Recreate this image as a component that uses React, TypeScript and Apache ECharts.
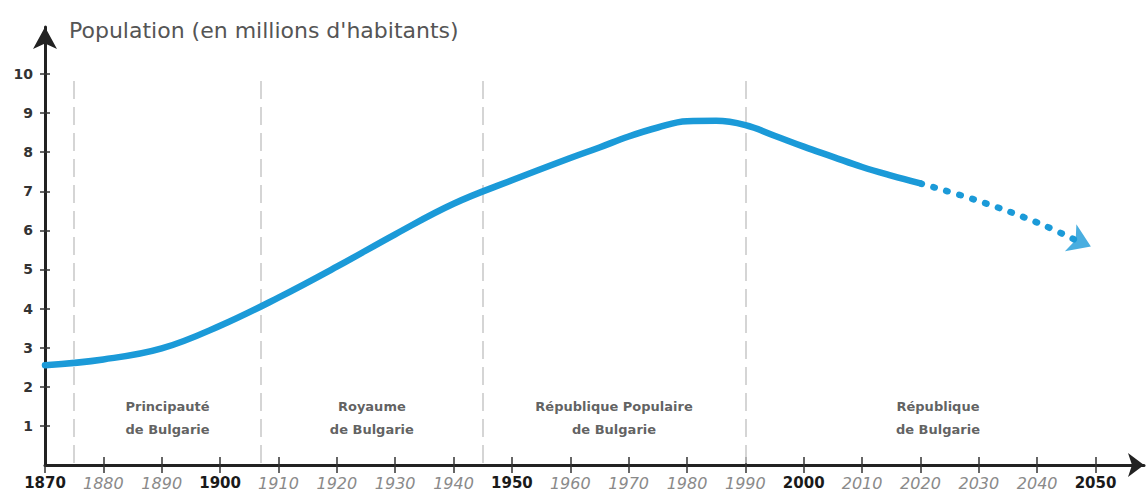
import React, { useEffect, useRef } from "react";
import * as echarts from "echarts";

const years = [1870, 1880, 1890, 1900, 1910, 1920, 1930, 1940, 1950, 1960, 1965, 1970, 1975, 1980, 1985, 1990, 1995, 2000, 2005, 2010, 2015, 2020];
const population = [2.55, 2.7, 2.98, 3.56, 4.28, 5.07, 5.9, 6.68, 7.28, 7.85, 8.12, 8.4, 8.63, 8.79, 8.8, 8.69, 8.42, 8.14, 7.88, 7.62, 7.4, 7.2];
const projYears = [2020, 2030, 2040, 2047];
const projection = [7.2, 6.75, 6.2, 5.72];
const arrowPoint = [2049.2, 5.59];
const boundaries = [1875, 1907, 1945, 1990];
const regimeNames = ["Principauté\nde Bulgarie", "Royaume\nde Bulgarie", "République Populaire\nde Bulgarie", "République\nde Bulgarie"];
const regimeCenters = [1891, 1926, 1967.5, 2023];
const tickYears = [1870, 1880, 1890, 1900, 1910, 1920, 1930, 1940, 1950, 1960, 1970, 1980, 1990, 2000, 2010, 2020, 2030, 2040, 2050];
const boldYears = [1870, 1900, 1950, 2000, 2050];
const yTicks = [1, 2, 3, 4, 5, 6, 7, 8, 9, 10];

const FONT = "DejaVu Sans";
const BLUE = "#1b9ad8";

export default function App() {
  const ref = useRef<HTMLDivElement>(null);
  useEffect(() => {
    if (!ref.current) return;
    const chart = echarts.init(ref.current, null, { renderer: "svg" });
    const xMin = 1870, xMax = 2058.3, yMin = 0, yMax = 11.2;
    const option: any = {
      animation: false,
      backgroundColor: "#ffffff",
      title: {
        text: "Population (en millions d'habitants)",
        left: 64,
        top: 14,
        textStyle: { fontFamily: FONT, fontSize: 22, fontWeight: "normal", color: "#555" },
      },
      grid: { left: 45, right: 4, top: 27, bottom: 28, containLabel: false },
      xAxis: [
        {
          type: "value",
          min: xMin,
          max: xMax,
          splitLine: { show: false },
          axisLine: { show: true, lineStyle: { color: "#222", width: 3 }, symbol: ["none", "arrow"], symbolSize: [18, 16] },
          axisTick: { show: true, length: 8, customValues: tickYears, lineStyle: { color: "#333", width: 1.5 } },
          axisLabel: {
            customValues: tickYears,
            margin: 10,
            formatter: (v: number) => (boldYears.indexOf(v) >= 0 ? "{b|" + v + "}" : "{i|" + v + "}"),
            rich: {
              b: { fontFamily: FONT, fontSize: 15, fontWeight: "bold", color: "#1a1a1a" },
              i: { fontFamily: FONT, fontSize: 16, fontStyle: "italic", fontWeight: "lighter", color: "#8a8a8a" },
            },
          },
        },
        {
          type: "value",
          position: "bottom",
          offset: 0,
          min: xMin,
          max: xMax,
          splitLine: { show: false },
          axisLine: { show: false },
          axisTick: { show: true, inside: true, length: 8, customValues: tickYears.slice(1), lineStyle: { color: "#333", width: 1.5 } },
          axisLabel: { show: false },
        },
      ],
      yAxis: [
        {
          type: "value",
          min: yMin,
          max: yMax,
          splitLine: { show: false },
          axisLine: { show: true, lineStyle: { color: "#222", width: 3 }, symbol: ["none", "arrow"], symbolSize: [18, 22] },
          axisTick: { show: true, length: 5, customValues: yTicks, lineStyle: { color: "#333", width: 1.5 } },
          axisLabel: {
            customValues: yTicks,
            margin: 12,
            fontFamily: FONT,
            fontSize: 14,
            fontWeight: "bold",
            color: "#333",
          },
        },
        {
          type: "value",
          position: "left",
          offset: 0,
          min: yMin,
          max: yMax,
          splitLine: { show: false },
          axisLine: { show: false },
          axisTick: { show: true, inside: true, length: 5, customValues: yTicks, lineStyle: { color: "#333", width: 1.5 } },
          axisLabel: { show: false },
        },
      ],
      series: [
        {
          type: "line",
          name: "boundaries",
          data: [],
          silent: true,
          markLine: {
            silent: true,
            symbol: ["none", "none"],
            label: { show: false },
            lineStyle: { color: "#c8c8c8", width: 1.5, type: [18, 8] },
            data: boundaries.map((b) => [
              { coord: [b, 0.05] },
              { coord: [b, 9.92] },
            ]),
          },
        },
        {
          type: "line",
          name: "population",
          data: years.map((y, i) => [y, population[i]]),
          smooth: 0.4,
          symbol: "none",
          lineStyle: { color: BLUE, width: 6.5, cap: "round" },
          z: 5,
        },
        {
          type: "line",
          name: "projection",
          data: projYears.map((y, i) => [y, projection[i]]),
          smooth: 0.4,
          symbol: "none",
          lineStyle: { color: BLUE, width: 6.5, type: [1.5, 12], cap: "round" },
          z: 5,
        },
        {
          type: "scatter",
          name: "arrow",
          data: [arrowPoint],
          symbol: "arrow",
          symbolSize: [22, 22],
          symbolRotate: -113,
          itemStyle: { color: BLUE },
          z: 6,
        },
        {
          type: "scatter",
          name: "regimes",
          data: regimeNames.map((n, i) => ({ value: [regimeCenters[i], 1.19], name: n })),
          symbolSize: 0,
          silent: true,
          label: {
            show: true,
            position: "inside",
            formatter: (p: any) => p.name,
            fontFamily: FONT,
            fontSize: 13,
            fontWeight: "bold",
            color: "#383838",
            lineHeight: 23,
            align: "center",
          },
        },
      ],
    };
    chart.setOption(option);
    return () => chart.dispose();
  }, []);
  return <div ref={ref} style={{ position: "fixed", left: 0, top: 0, width: 1148, height: 493 }} />;
}
